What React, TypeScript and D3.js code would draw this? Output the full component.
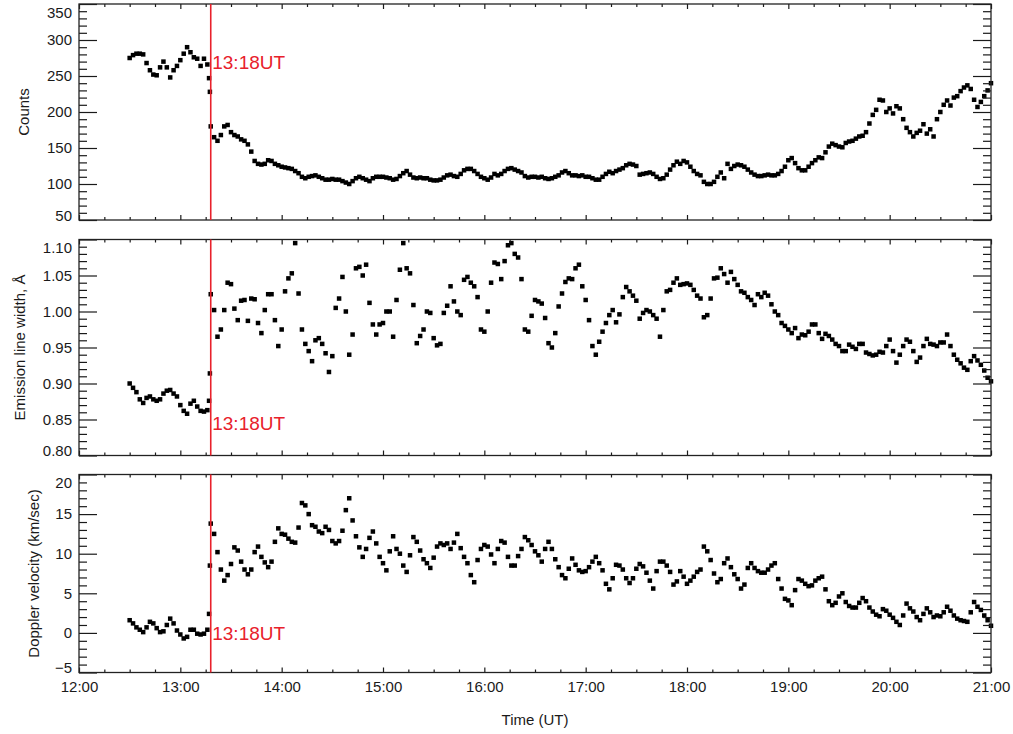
import React, { useEffect, useRef } from 'react';
import * as d3 from 'd3';

const FONT = '"Liberation Sans", Arial, Helvetica, sans-serif';

// observations sampled every 2 minutes
const cadence = 2;
const preStart = '12:30';
const postStart = '13:18';
const jumpTimes = ['13:17:00', '13:17:30'];
const eventTime = '13:18';
const eventLabel = '13:18UT';
const hourTicks = ['12:00', '13:00', '14:00', '15:00', '16:00', '17:00', '18:00', '19:00', '20:00', '21:00'];

// Counts
const countsPre = [275, 279, 281, 281, 280, 268, 258, 252, 251, 262, 270, 262, 248, 258, 264, 272, 281, 290, 283, 276, 274, 264, 274, 266];
const countsJump = [247, 228];
const countsPost = [
  180, 165, 160, 168, 180, 182, 172, 168, 166, 162, 160, 155, 145, 132, 128, 127, 128, 133, 132, 128,
  126, 124, 123, 122, 121, 118, 115, 110, 108, 110, 111, 112, 110, 108, 106, 106, 107, 106, 106, 104,
  102, 100, 104, 108, 110, 108, 106, 104, 108, 110,
  110, 110, 109, 108, 106, 107, 111, 115, 118, 113, 109, 108, 109, 108, 108, 106, 105, 105, 106, 109,
  112, 113, 111, 110, 114, 119, 121, 121, 118, 114, 110, 108, 106, 109, 114, 112, 114, 118, 121, 122,
  120, 118, 116, 111, 109, 110, 110, 109, 110, 108, 107, 108, 110, 112, 116, 118, 115, 112, 112, 111,
  112, 110, 110, 108, 106, 106, 110, 114, 117, 115, 118, 120, 122, 126, 128, 127, 125, 113, 114, 115,
  116, 114, 110, 107, 108, 113, 120, 126, 131, 128, 132, 130, 124, 118, 114,
  112, 103, 100, 100, 103, 110, 116, 108, 128, 121, 125, 127, 126, 124, 120, 116, 113, 111, 111, 112,
  113, 112, 112, 114, 118, 124, 133, 136, 129, 122, 119, 119, 124, 129, 133, 137, 136, 144, 152, 156,
  154, 152, 151, 157, 159, 160, 163, 166, 167, 172, 184, 196, 203, 217, 216, 200, 205, 198, 208, 205,
  190, 178, 172, 166, 171, 174, 183, 170, 176, 166, 190, 200, 210, 216, 209, 220, 222, 229, 234, 237,
  232, 217, 207, 214, 222, 230, 240,
];

// Emission line width (Å)
const widthPre = [0.900, 0.894, 0.888, 0.878, 0.873, 0.880, 0.882, 0.878, 0.876, 0.878, 0.886, 0.890, 0.891, 0.886, 0.882, 0.870, 0.862, 0.858, 0.872, 0.876, 0.868, 0.862, 0.861, 0.863];
const widthJump = [0.876, 0.914];
const widthPost = [
  1.024, 1.002, 0.965, 0.975, 1.002, 1.040, 1.038, 1.004, 0.988, 1.015, 1.016, 0.987, 1.018, 1.017, 0.984, 0.970, 1.002, 1.024, 1.024, 0.988,
  0.952, 0.975, 1.028, 1.046, 1.053, 1.095, 1.025, 0.975, 0.955, 0.945, 0.931, 0.960, 0.963, 0.955, 0.942, 0.916, 0.938, 1.005, 1.018, 1.048,
  1.000, 0.940, 0.968, 1.060, 1.062, 1.050, 1.065, 1.012, 0.982, 0.968,
  0.982, 0.984, 1.000, 1.000, 0.965, 1.016, 1.058, 1.095, 1.060, 1.053, 1.009, 0.956, 0.966, 0.975, 1.000, 0.998, 0.963, 0.953, 0.955, 0.998,
  1.008, 1.035, 1.014, 1.000, 0.995, 1.044, 1.048, 1.040, 1.035, 1.020, 0.975, 0.972, 1.000, 1.040, 1.068, 1.066, 1.045, 1.070, 1.092, 1.095,
  1.080, 1.075, 1.045, 0.975, 0.972, 0.994, 1.016, 1.014, 1.011, 0.991, 0.956, 0.950, 0.970, 1.007, 1.025, 1.041, 1.046, 1.045, 1.060, 1.065,
  1.035, 1.016, 0.988, 0.952, 0.940, 0.958, 0.972, 0.984, 0.995, 1.002, 0.985, 0.996, 1.020, 1.034, 1.028, 1.022, 1.015, 0.990, 0.998, 1.002,
  1.000, 0.995, 0.990, 0.965, 1.002, 1.028, 1.030, 1.040, 1.046, 1.037, 1.038, 1.039, 1.037, 1.030, 1.022,
  1.018, 0.992, 0.995, 1.018, 1.046, 1.047, 1.060, 1.052, 1.040, 1.055, 1.045, 1.037, 1.028, 1.026, 1.020, 1.016, 1.009, 1.024, 1.020, 1.026,
  1.022, 1.010, 1.000, 0.995, 0.984, 0.980, 0.975, 0.970, 0.977, 0.963, 0.968, 0.967, 0.972, 0.982, 0.982, 0.970, 0.962, 0.969, 0.966, 0.961,
  0.955, 0.952, 0.945, 0.945, 0.954, 0.951, 0.948, 0.955, 0.955, 0.943, 0.941, 0.939, 0.940, 0.944, 0.943, 0.952, 0.961, 0.945, 0.929, 0.940,
  0.952, 0.961, 0.958, 0.945, 0.930, 0.936, 0.952, 0.962, 0.955, 0.954, 0.952, 0.957, 0.957, 0.968, 0.952, 0.940, 0.933, 0.928, 0.922, 0.919,
  0.931, 0.938, 0.932, 0.926, 0.918, 0.908, 0.903,
];

// Doppler velocity (km/sec)
const velPre = [1.6, 1.2, 0.7, 0.4, 0.1, 0.7, 1.4, 1.2, 0.6, 0.1, 0.2, 1.0, 1.8, 1.2, 0.3, -0.2, -0.7, -0.5, 0.4, 0.4, -0.1, -0.2, -0.1, 0.4];
const velJump = [2.4, 8.5];
const velPost = [
  13.8, 12.5, 10.2, 8.0, 6.6, 7.3, 8.7, 10.8, 10.4, 9.0, 8.0, 7.4, 8.0, 10.2, 10.9, 9.6, 8.9, 8.3, 9.0, 11.5,
  13.2, 12.5, 12.4, 11.9, 11.5, 11.4, 13.3, 16.4, 16.1, 15.0, 13.6, 13.4, 12.8, 12.6, 13.4, 13.0, 11.6, 11.3, 11.6, 12.9,
  15.5, 17.0, 14.2, 12.2, 10.8, 9.6, 10.6, 12.0, 12.8, 11.3,
  9.6, 8.8, 7.9, 10.3, 12.2, 10.6, 10.0, 8.5, 7.7, 9.8, 12.1, 11.5, 10.4, 9.3, 8.8, 8.2, 9.5, 10.9, 11.3, 11.1,
  11.3, 10.6, 11.4, 12.5, 10.7, 9.6, 8.8, 7.3, 6.4, 9.2, 10.6, 11.1, 10.9, 9.9, 8.8, 10.6, 11.6, 11.4, 9.6, 8.5,
  8.5, 9.7, 10.6, 12.1, 11.7, 11.1, 10.3, 9.8, 9.0, 10.6, 11.5, 10.6, 9.3, 8.3, 7.3, 6.9, 8.1, 9.4, 8.6, 7.9,
  7.7, 7.8, 8.3, 9.0, 9.6, 8.8, 7.9, 6.2, 5.5, 6.9, 8.6, 8.5, 8.0, 6.9, 6.3, 6.9, 8.1, 8.7, 8.4, 7.6,
  6.6, 5.6, 7.8, 9.0, 9.0, 8.5, 7.7, 6.1, 6.5, 7.8, 7.1, 6.2, 6.6, 7.1, 7.7,
  8.0, 10.9, 10.3, 9.2, 7.5, 6.4, 6.8, 8.8, 9.4, 8.3, 7.4, 6.8, 5.6, 6.1, 8.2, 8.8, 8.2, 7.8, 7.6, 7.6,
  8.0, 8.5, 8.8, 6.8, 5.6, 4.3, 4.1, 3.5, 5.4, 6.8, 6.6, 6.2, 5.9, 6.0, 6.6, 6.9, 7.1, 5.5, 4.0, 3.5,
  3.8, 4.6, 5.0, 3.9, 3.4, 3.2, 3.2, 3.8, 4.4, 4.0, 3.2, 2.7, 2.3, 2.1, 3.0, 2.8, 2.3, 1.9, 1.4, 1.0,
  2.2, 3.7, 3.1, 2.7, 2.0, 1.6, 2.4, 3.1, 2.6, 2.0, 2.2, 2.1, 2.6, 3.3, 2.8, 2.2, 1.8, 1.6, 1.5, 1.4,
  2.6, 3.9, 3.3, 2.9, 2.2, 1.6, 0.9,
];

const toMin = (s: string) => {
  const [h, m, sec] = s.split(':').map(Number);
  return h * 60 + m + (sec || 0) / 60;
};
const fmtHour = (v: number) => `${Math.floor(v / 60)}:00`;

const W = 1013, H = 734;
const left = 79, right = 991;

const panels = [
  { title: 'Counts', pre: countsPre, jump: countsJump, post: countsPost, domain: [50, 350], major: 50, minor: 10, fmt: (v: number) => d3.format('d')(v), top: 4, bottom: 220, titleX: 29, eventY: 68.5 },
  { title: 'Emission line width, Å', pre: widthPre, jump: widthJump, post: widthPost, domain: [0.8, 1.1], major: 0.05, minor: 0.01, fmt: (v: number) => d3.format('.2f')(v), top: 239.5, bottom: 455.5, titleX: 24.5, eventY: 429.5 },
  { title: 'Doppler velocity (km/sec)', pre: velPre, jump: velJump, post: velPost, domain: [-5, 20], major: 5, minor: 1, fmt: (v: number) => d3.format('d')(v), top: 474.5, bottom: 672.5, titleX: 38.5, eventY: 639.5 },
];

const stepValues = (lo: number, hi: number, step: number) =>
  d3.range(0, Math.round((hi - lo) / step) + 1).map(i => +(lo + i * step).toFixed(6));

const App = () => {
  const ref = useRef<SVGSVGElement>(null);

  useEffect(() => {
    if (!ref.current) return;
    const svg = d3.select(ref.current);
    svg.selectAll('*').remove();

    const x = d3.scaleLinear().domain([toMin(hourTicks[0]), toMin(hourTicks[hourTicks.length - 1])]).range([left, right]);
    const xMajor = hourTicks.map(toMin);
    const xMinor = stepValues(xMajor[0], xMajor[xMajor.length - 1], 15).filter(v => v % 60 !== 0);
    const tEvent = toMin(eventTime);

    panels.forEach((p, pi) => {
      const y = d3.scaleLinear().domain(p.domain).range([p.bottom, p.top]);
      const g = svg.append('g');

      // points
      const pts: [number, number][] = [];
      p.pre.forEach((v, i) => pts.push([toMin(preStart) + i * cadence, v]));
      p.jump.forEach((v, i) => pts.push([toMin(jumpTimes[i]), v]));
      p.post.forEach((v, i) => pts.push([toMin(postStart) + i * cadence, v]));
      const s = 4.5;
      g.append('g').selectAll('rect').data(pts).join('rect')
        .attr('x', d => x(d[0]) - s / 2)
        .attr('y', d => y(d[1]) - s / 2)
        .attr('width', s).attr('height', s)
        .attr('fill', '#000');

      // y axes (ticks point inwards)
      const yMajor = stepValues(p.domain[0], p.domain[1], p.major);
      const yMinor = stepValues(p.domain[0], p.domain[1], p.minor).filter(v => !yMajor.some(m => Math.abs(m - v) < 1e-6));
      const styleAxis = (a: d3.Selection<SVGGElement, unknown, null, undefined>) => {
        a.attr('font-family', FONT).attr('font-size', 15).attr('color', '#1a1a1a');
        a.select('.domain').remove();
        a.selectAll('.tick line').attr('stroke-width', 1.2);
      };
      const yl = g.append('g').attr('transform', `translate(${left},0)`)
        .call(d3.axisLeft(y).tickValues(yMajor).tickFormat(d => p.fmt(+d)).tickSizeInner(-18).tickSizeOuter(0).tickPadding(7));
      styleAxis(yl);
      yl.selectAll<SVGGElement, number>('.tick').each(function (d) {
        const ty = y(d);
        const cy = Math.min(Math.max(ty, p.top + 8.5), p.bottom - 4.5);
        d3.select(this).select('text').attr('y', cy - ty);
      });
      styleAxis(g.append('g').attr('transform', `translate(${left},0)`)
        .call(d3.axisLeft(y).tickValues(yMinor).tickFormat(() => '').tickSizeInner(-8).tickSizeOuter(0)));
      styleAxis(g.append('g').attr('transform', `translate(${right},0)`)
        .call(d3.axisRight(y).tickValues(yMajor).tickFormat(() => '').tickSizeInner(-18).tickSizeOuter(0)));
      styleAxis(g.append('g').attr('transform', `translate(${right},0)`)
        .call(d3.axisRight(y).tickValues(yMinor).tickFormat(() => '').tickSizeInner(-8).tickSizeOuter(0)));

      // x axes
      const last = pi === panels.length - 1;
      const xb = g.append('g').attr('transform', `translate(0,${p.bottom})`)
        .call(d3.axisBottom(x).tickValues(xMajor).tickFormat(d => (last ? fmtHour(+d) : '')).tickSizeInner(-5).tickSizeOuter(0).tickPadding(9));
      styleAxis(xb);
      styleAxis(g.append('g').attr('transform', `translate(0,${p.bottom})`)
        .call(d3.axisBottom(x).tickValues(xMinor).tickFormat(() => '').tickSizeInner(-3).tickSizeOuter(0)));
      styleAxis(g.append('g').attr('transform', `translate(0,${p.top})`)
        .call(d3.axisTop(x).tickValues(xMajor).tickFormat(() => '').tickSizeInner(-5).tickSizeOuter(0)));
      styleAxis(g.append('g').attr('transform', `translate(0,${p.top})`)
        .call(d3.axisTop(x).tickValues(xMinor).tickFormat(() => '').tickSizeInner(-3).tickSizeOuter(0)));

      // frame
      g.append('rect')
        .attr('x', left).attr('y', p.top)
        .attr('width', right - left).attr('height', p.bottom - p.top)
        .attr('fill', 'none').attr('stroke', '#222').attr('stroke-width', 1.3);

      // event marker
      g.append('line')
        .attr('x1', x(tEvent)).attr('x2', x(tEvent))
        .attr('y1', p.top).attr('y2', p.bottom)
        .attr('stroke', '#e8212b').attr('stroke-width', 1.6);
      g.append('text')
        .attr('x', x(tEvent) + 1.5).attr('y', p.eventY)
        .attr('font-family', FONT).attr('font-size', 19).attr('fill', '#e8212b')
        .text(eventLabel);

      // y title
      g.append('text')
        .attr('transform', `translate(${p.titleX},${(p.top + p.bottom) / 2}) rotate(-90)`)
        .attr('text-anchor', 'middle')
        .attr('font-family', FONT).attr('font-size', 15).attr('fill', '#1a1a1a')
        .text(p.title);
    });

    svg.append('text')
      .attr('x', (left + right) / 2).attr('y', 725)
      .attr('text-anchor', 'middle')
      .attr('font-family', FONT).attr('font-size', 15).attr('fill', '#1a1a1a')
      .text('Time (UT)');
  }, []);

  return (
    <svg ref={ref} width={W} height={H} style={{ position: 'absolute', left: 0, top: 0, background: '#fff' }} />
  );
};

export default App;
